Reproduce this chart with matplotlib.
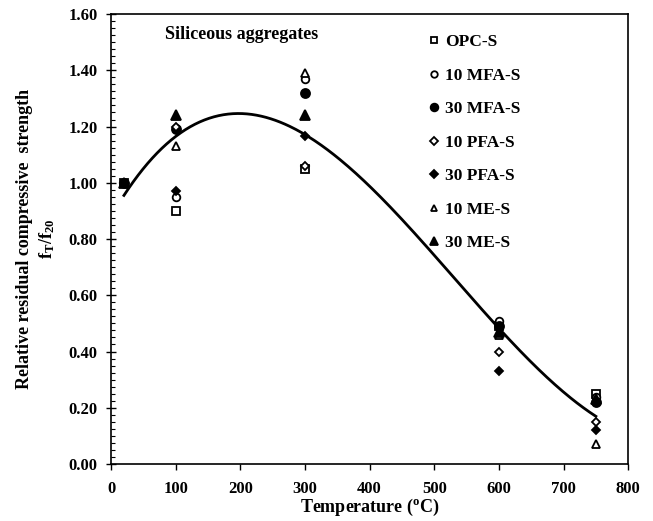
import numpy as np
import matplotlib
matplotlib.use('Agg')
import matplotlib.pyplot as plt
from matplotlib.ticker import MultipleLocator, FormatStrFormatter

plt.rcParams['font.family'] = ['Liberation Serif', 'DejaVu Serif']
plt.rcParams['font.weight'] = 'bold'
plt.rcParams['mathtext.fontset'] = 'custom'
plt.rcParams['mathtext.rm'] = 'Liberation Serif:bold'
plt.rcParams['mathtext.it'] = 'Liberation Serif:bold'
plt.rcParams['mathtext.bf'] = 'Liberation Serif:bold'

# 温度
temps = [20, 100, 300, 600, 750]
# 各配合の相対残存圧縮強度
opc_s = [1.00, 0.90, 1.05, 0.49, 0.25]
mfa10_s = [1.00, 0.95, 1.37, 0.51, 0.24]
mfa30_s = [1.00, 1.19, 1.32, 0.49, 0.22]
pfa10_s = [1.00, 1.20, 1.06, 0.40, 0.15]
pfa30_s = [1.00, 0.97, 1.165, 0.33, 0.12]
me10_s = [1.00, 1.13, 1.39, 0.46, 0.07]
me30_s = [1.00, 1.24, 1.24, 0.47, 0.23]

labels = ['OPC-S', '10 MFA-S', '30 MFA-S', '10 PFA-S', '30 PFA-S', '10 ME-S', '30 ME-S']
series = [opc_s, mfa10_s, mfa30_s, pfa10_s, pfa30_s, me10_s, me30_s]
markers = ['s', 'o', 'o', 'D', 'D', '^', '^']
filled = [False, False, True, False, True, False, True]
msizes = [5.5, 5.5, 6.5, 4.5, 4.5, 5.5, 6.5]

fig = plt.figure(figsize=(6.53, 5.21), dpi=100)
ax = fig.add_axes([0.170, 0.1094, 0.792, 0.8636])

for vals, lab, m, f, ms in zip(series, labels, markers, filled, msizes):
    ax.plot(temps, vals, linestyle='none', marker=m, markersize=ms,
            markerfacecolor='black' if f else 'white',
            markeredgecolor='black', markeredgewidth=1.3, label=lab)

# 3次の近似曲線(全データに当てはめ)
all_t = np.tile(temps, len(series))
all_v = np.concatenate(series)
coef = np.polyfit(all_t, all_v, 3)
xt = np.linspace(20, 750, 300)
ax.plot(xt, np.polyval(coef, xt), color='black', linewidth=2)

ax.set_xlim(0, 800)
ax.set_ylim(0, 1.6)
ax.xaxis.set_major_locator(MultipleLocator(100))
ax.yaxis.set_major_locator(MultipleLocator(0.2))
ax.yaxis.set_minor_locator(MultipleLocator(0.025))
ax.yaxis.set_major_formatter(FormatStrFormatter('%.2f'))
ax.tick_params(axis='x', direction='out', length=4, width=1, labelsize=12, pad=8)
ax.tick_params(axis='y', which='major', direction='inout', length=7, width=1, labelsize=12, pad=6)
ax.tick_params(axis='y', which='minor', direction='in', length=3, width=0.8)
for lbl in ax.get_xticklabels() + ax.get_yticklabels():
    lbl.set_fontweight('bold')
for sp in ax.spines.values():
    sp.set_linewidth(1.2)

ax.set_xlabel('Temperature ($^{\\rm o}$C)', fontsize=13, fontweight='bold', labelpad=0)
ax.set_ylabel('Relative residual compressive  strength\nf$_{\\rm T}$/f$_{\\rm 20}$',
              fontsize=13, fontweight='bold', labelpad=8, linespacing=1.3)

ax.text(84, 1.51, 'Siliceous aggregates', fontsize=13, fontweight='bold')

ax.legend(loc='upper left', bbox_to_anchor=(0.585, 0.99), frameon=False,
          prop={'weight': 'bold', 'size': 12.5}, handlelength=0.6,
          handletextpad=0.3, labelspacing=1.0, markerscale=0.85)

plt.savefig('out.png', dpi=100)
